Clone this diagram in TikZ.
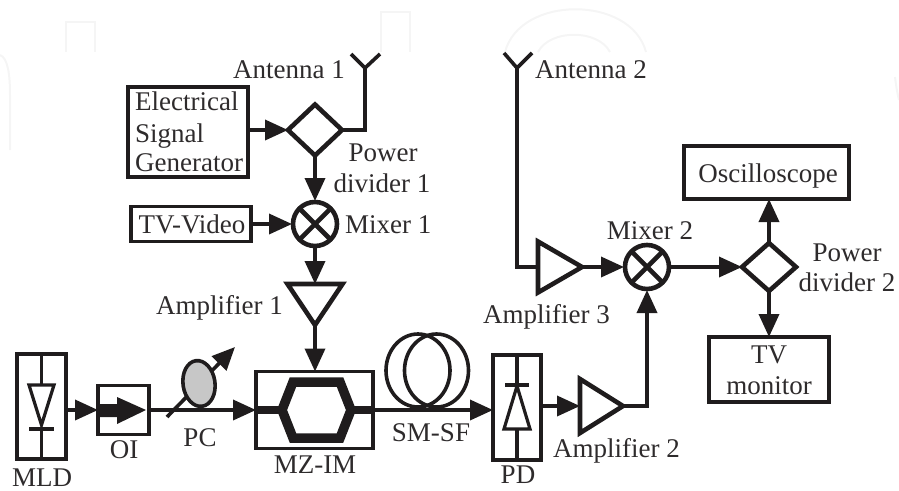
\documentclass[tikz,border=0pt]{standalone}
\usepackage{fontspec}
\setmainfont{Liberation Serif}
\usetikzlibrary{arrows.meta,shapes.geometric}
\definecolor{ink}{HTML}{1F1C1D}
\definecolor{txt}{HTML}{2E2B2C}
\definecolor{mark}{HTML}{F5F5F5}
\tikzset{
  wire/.style={draw=ink,line width=3.6pt},
  arr/.style={wire,-{Triangle[length=23pt,width=20pt]}},
  boxn/.style={draw=ink,line width=3.6pt,rectangle,inner sep=0pt,outer sep=0pt},
  dia/.style={draw=ink,line width=4.6pt,diamond,aspect=1,inner sep=0pt,outer sep=0pt},
  mix/.style={draw=ink,line width=4.6pt,circle,minimum size=44pt,inner sep=0pt,outer sep=1pt},
  ampn/.style={rectangle,inner sep=0pt,outer sep=0pt},
  tri/.style={draw=ink,line width=4.6pt,miter limit=10},
  faint/.style={draw=mark,line width=2pt},
  lab/.style={text=txt,inner sep=0pt,font=\fontsize{27}{27}\selectfont},
}
\begin{document}
\begin{tikzpicture}[x=1pt,y=-1pt]
\useasboundingbox (0,0) rectangle (899,490);
% faint background marks
\draw[faint] (66,52)--(66,22)--(95,22)--(95,52);
\draw[faint] (381,52)--(381,12)--(410,12)--(410,52);
\draw[faint] (505,52) .. controls (520,-5) and (631,-5) .. (646,52);
\draw[faint] (538,52) .. controls (550,29) and (598,29) .. (610,52);
\draw[faint] (0,55) .. controls (8,58) and (10,75) .. (10,95)--(10,150);
\draw[faint] (899,100) .. controls (897,92) and (896,85) .. (895,77);
% boxes
\node[boxn,minimum width=49pt,minimum height=105pt] (mld) at (41.5,406.5) {};
\node[boxn,minimum width=51pt,minimum height=49pt] (oi) at (123.5,410) {};
\node[boxn,minimum width=117pt,minimum height=77pt] (mz) at (314.5,410) {};
\node[boxn,minimum width=48pt,minimum height=105pt] (pd) at (517,407.5) {};
\node[boxn,minimum width=120pt,minimum height=90pt] (gen) at (188,132) {};
\node[boxn,minimum width=120pt,minimum height=35pt] (tv) at (191,224) {};
\node[boxn,minimum width=165pt,minimum height=53pt] (osc) at (766.5,172.5) {};
\node[boxn,minimum width=120pt,minimum height=65pt] (mon) at (769,369.5) {};
% dividers and mixers
\node[dia,minimum width=54pt,minimum height=51pt] (d1) at (315,130) {};
\node[dia,minimum width=54pt,minimum height=48pt] (d2) at (769,267) {};
\node[mix] (m1) at (315,224) {};
\node[mix] (m2) at (647,267) {};
\foreach \m in {m1,m2}{
  \draw[line width=4.6pt,draw=ink] (\m.north west)--(\m.south east) (\m.north east)--(\m.south west);
}
% amplifiers
\node[ampn,minimum width=55pt,minimum height=41pt] (a1) at (315,304.5) {};
\draw[tri] (a1.north west)--(a1.north east)--(a1.south)--cycle;
\node[ampn,minimum width=43pt,minimum height=54pt] (a2) at (601.5,406) {};
\draw[tri] (a2.north west)--(a2.east)--(a2.south west)--cycle;
\node[ampn,minimum width=44pt,minimum height=51pt] (a3) at (560,267) {};
\draw[tri] (a3.north west)--(a3.east)--(a3.south west)--cycle;
% antennas
\coordinate (ant1) at (365,68);
\coordinate (ant2) at (517,68);
\draw[wire] (351,54)--(ant1)--(380,54);
\draw[wire] (504,53)--(ant2)--(532,53);
\draw[wire] (d1.east)-|(ant1);
\draw[wire] (ant2)|-(a3.west);
% signal chain
\draw[arr] (gen.east|-d1.west)--(d1.west);
\draw[arr] (d1.south)--(m1.north);
\draw[arr] (tv.east)--(m1.west);
\draw[arr] (m1.south)--(a1.north);
\draw[arr] (a1.south)--(a1.south|-mz.north);
\draw[arr] (mld.east|-oi.west)--(oi.west);
\draw[arr] (oi.east)--(mz.west);
\draw[arr] (pd.east|-a2.west)--(a2.west);
\draw[arr] (a2.east)-|(m2.south);
\draw[arr] (a3.east)--(m2.west);
\draw[arr] (m2.east)--(d2.west);
\draw[arr] (d2.north)--(d2.north|-osc.south);
\draw[arr] (d2.south)--(mon.north);
\draw[arr] (mz.east)--(mz.east-|pd.west);
% MLD and PD internals
\draw[wire] (mld.north)--(41.5,385);
\draw[wire] (41.5,429)--(mld.south);
\draw[wire] (29,429)--(54,429);
\draw[draw=ink,line width=3.2pt] (29,385)--(54,385)--(41.5,425)--cycle;
\draw[wire] (pd.north)--(517,385);
\draw[wire] (517,429)--(pd.south);
\draw[wire] (505,385)--(529,385);
\draw[draw=ink,line width=3.2pt] (517,386)--(530,429)--(504,429)--cycle;
% isolator
\fill[ink] (oi.west|-0,404)--(117,404)--(117,397)--(146,410)--(117,424)--(117,417)--(oi.west|-0,417)--cycle;
% polarisation controller
\coordinate (pct) at (167,417);
\coordinate (pch) at (235,347);
\draw[arr] (pct)--(pch);
\draw[draw=ink,fill=black!22,line width=3.6pt,rotate around={8:(199,383.5)}] (199,383.5) ellipse [x radius=16,y radius=23];
% modulator
\draw[draw=ink,line width=9.5pt,miter limit=10] (282,410)--(293,382)--(340,382)--(351,410)--(340,438)--(293,438)--cycle;
\draw[draw=ink,line width=8pt] (mz.west)--(282,410) (351,410)--(mz.east);
% fibre coil
\draw[wire] (418,370.5) ellipse [x radius=32,y radius=36.5];
\draw[wire] (436.5,370.5) ellipse [x radius=32,y radius=36.5];
% labels
\node[lab,anchor=base east] (la1) at (345,78) {Antenna 1};
\node[lab,anchor=base west] (la2) at (535,78) {Antenna 2};
\node[lab,anchor=base west] (g1) at (135,110) {Electrical};
\node[lab,anchor=base west] (g2) at (135,142) {Signal};
\node[lab,anchor=base west] (g3) at (135,171) {Generator};
\node[lab,anchor=base] (p1a) at (383,161) {Power};
\node[lab,anchor=base] (p1b) at (382,192) {divider 1};
\node[lab,anchor=base] (ltv) at (192,233) {TV-Video};
\node[lab,anchor=base west] (lm1) at (345,233) {Mixer 1};
\node[lab,anchor=base east] (lam1) at (283,314) {Amplifier 1};
\node[lab,anchor=base] (lmld) at (42,486) {MLD};
\node[lab,anchor=base] (loi) at (124,458) {OI};
\node[lab,anchor=base] (lpc) at (200,446) {PC};
\node[lab,anchor=base] (lmz) at (315,473) {MZ-IM};
\node[lab,anchor=base] (lsm) at (431,441) {SM-SF};
\node[lab,anchor=base] (lpd) at (518,483) {PD};
\node[lab,anchor=base west] (lam2) at (553,457) {Amplifier 2};
\node[lab,anchor=base west] (lam3) at (483,323) {Amplifier 3};
\node[lab,anchor=base] (lm2) at (650,239) {Mixer 2};
\node[lab,anchor=base] (losc) at (768,182) {Oscilloscope};
\node[lab,anchor=base] (p2a) at (847,261) {Power};
\node[lab,anchor=base] (p2b) at (847,291) {divider 2};
\node[lab,anchor=base] (mon1) at (769,363) {TV};
\node[lab,anchor=base] (mon2) at (769,394) {monitor};
\end{tikzpicture}
\end{document}
